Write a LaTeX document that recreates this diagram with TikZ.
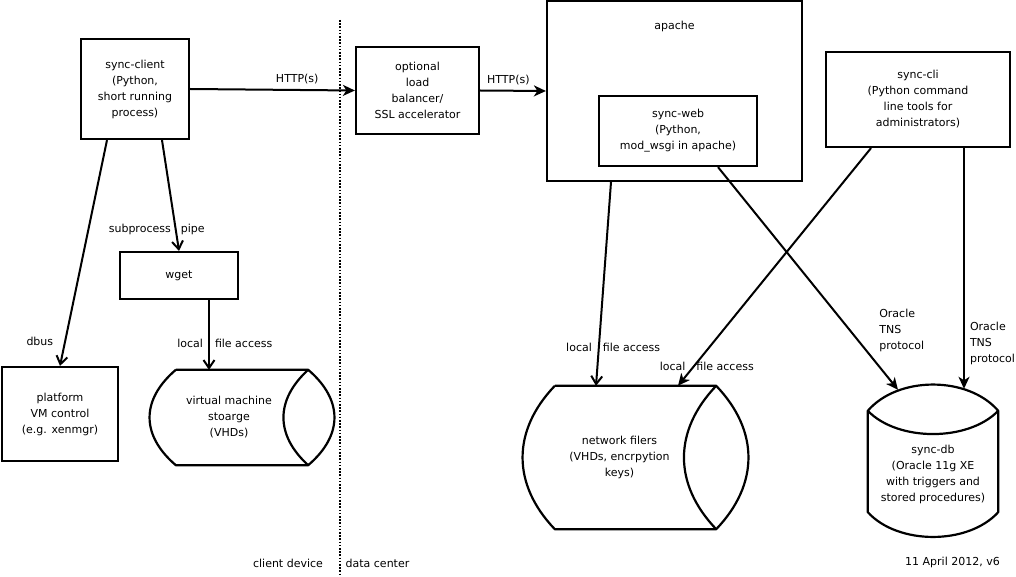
\documentclass[tikz,border=0pt]{standalone}
\usepackage{fontspec}
\setmainfont{DejaVu Sans}
\usetikzlibrary{positioning,arrows.meta,calc}
\tikzset{
  flow/.style={-{Stealth[length=12pt,width=11pt,inset=3.5pt]},line width=2pt},
  openflow/.style={-{Straight Barb[length=8pt,width=11pt]},line width=2pt},
  box/.style={draw,line width=2.2pt,inner sep=0pt,align=center,
    font=\fontsize{11}{16}\selectfont},
  store/.style={inner sep=0pt,align=center,font=\fontsize{11}{16}\selectfont},
  outline/.style={line width=2.2pt,line join=round},
  lbl/.style={inner sep=2pt,align=left,font=\fontsize{11}{16}\selectfont},
  divider/.style={line width=1.8pt,dash pattern=on 1.6pt off 1.6pt}
}

\begin{document}
\begin{tikzpicture}[x=1pt,y=-1pt]
  \useasboundingbox (0,0) rectangle (1016,577);
  % client device
  \node[box,minimum width=108pt,minimum height=100pt] (client) at (135,89)
    {sync-client\\(Python,\\short running\\process)};
  \node[box,minimum width=118pt,minimum height=47pt] (wget) at (179,275.5) {wget};
  \node[box,minimum width=116pt,minimum height=94pt] (platform) at (60,414)
    {platform\\VM control\\(e.g. xenmgr)};
  \node[store,minimum width=158pt,minimum height=95pt] (vmstore) at (229,417.5)
    {virtual machine\\stoarge\\(VHDs)};
  \draw[outline] ([xshift=26pt]vmstore.north west) -- (vmstore.north east)
    .. controls +(35,30) and +(35,-30) .. (vmstore.south east)
    -- ([xshift=26pt]vmstore.south west)
    .. controls +(-35,-30) and +(-35,30) .. ([xshift=26pt]vmstore.north west);
  \draw[outline] (vmstore.north east) .. controls +(-33,30) and +(-33,-30) .. (vmstore.south east);

  % data center
  \node[box,minimum width=123pt,minimum height=87pt] (balancer) at (417.5,90.5)
    {optional\\load\\balancer/\\SSL accelerator};
  \node[box,minimum width=255pt,minimum height=180pt] (apache) at (674.5,91) {};
  \node[store] (apachetitle) at ([yshift=-27pt]apache.north) {apache};
  \node[box,minimum width=158pt,minimum height=70pt] (syncweb) at (678,131)
    {sync-web\\(Python,\\mod\_wsgi in apache)};
  \node[box,minimum width=184pt,minimum height=95pt] (synccli) at (918,99.5)
    {sync-cli\\(Python command\\line tools for\\administrators)};
  \node[store,minimum width=193pt,minimum height=143pt] (filers) at (619.5,457.5)
    {network filers\\(VHDs, encrpytion\\keys)};
  \draw[outline] ([xshift=32pt]filers.north west) -- (filers.north east)
    .. controls +(43,45) and +(43,-45) .. (filers.south east)
    -- ([xshift=32pt]filers.south west)
    .. controls +(-43,-45) and +(-43,45) .. ([xshift=32pt]filers.north west);
  \draw[outline] (filers.north east) .. controls +(-43,45) and +(-43,-45) .. (filers.south east);
  \node[store,minimum width=130pt,minimum height=126pt] (syncdb) at (933,474)
    {sync-db\\(Oracle 11g XE\\with triggers and\\stored procedures)};
  \draw[outline] (syncdb.north west) .. controls +(30,-35) and +(-30,-35) .. (syncdb.north east)
    -- ([yshift=25pt]syncdb.south east)
    .. controls +(-30,33) and +(30,33) .. ([yshift=25pt]syncdb.south west) -- cycle;
  \draw[outline] (syncdb.north west) .. controls +(30,31) and +(-30,31) .. (syncdb.north east);

  % divider
  \coordinate (divtop) at (340,20);
  \coordinate (divbot) at (340,577);
  \draw[divider] (divtop) -- (divbot);
  \node[lbl] (clientdev) at (288,563) {client device};
  \node[lbl] (datacenter) at (377.5,563) {data center};
  \node[lbl] (version) at (952.5,562) {11 April 2012, v6};

  % connectors
  \draw[flow] (client.east) -- node[lbl,pos=0.65,above=3pt] {HTTP(s)} (balancer.west);
  \draw[flow] (balancer.east) -- node[lbl,pos=0.43,above=3pt] {HTTP(s)} (apache.west);
  \draw[openflow] ([xshift=27pt]client.south) -- (wget.north)
    node[lbl,pos=0.81,left=2pt] {subprocess} node[lbl,pos=0.81,right=2pt] {pipe};
  \draw[openflow] ([xshift=-28pt]client.south) -- (platform.north)
    node[lbl,pos=0.89,left=9pt] {dbus};
  \draw[openflow] ([xshift=30pt]wget.south) -- ([xshift=-20pt]vmstore.north)
    node[lbl,pos=0.62,left=3pt] {local} node[lbl,pos=0.62,right=3pt] {file access};
  \draw[openflow] ([xshift=-63.5pt]apache.south) -- ([xshift=-23.5pt]filers.north)
    node[lbl,pos=0.81,left=4pt] {local} node[lbl,pos=0.81,right=1pt] {file access};
  \draw[flow] ([xshift=-47pt]synccli.south) -- ([xshift=58.5pt]filers.north)
    node[lbl,pos=0.92,left=5pt] {local} node[lbl,pos=0.92,right=0pt] {file access};
  \draw[flow] ([xshift=40pt]syncweb.south) -- ([xshift=-35pt,yshift=21pt]syncdb.north)
    node[lbl,pos=0.735,right=26pt] {Oracle\\TNS\\protocol};
  \draw[flow] ([xshift=46pt]synccli.south) -- ([xshift=31pt,yshift=22pt]syncdb.north)
    node[lbl,pos=0.81,right=3pt] {Oracle\\TNS\\protocol};
\end{tikzpicture}
\end{document}
